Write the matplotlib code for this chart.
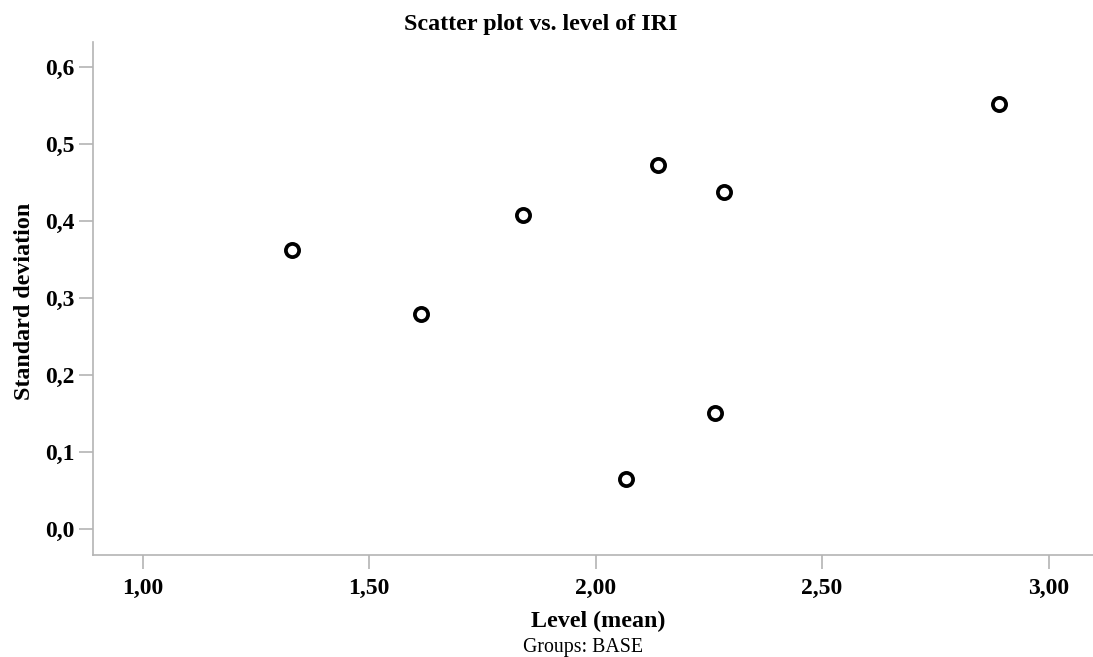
import matplotlib
matplotlib.use("Agg")
import matplotlib.pyplot as plt
from matplotlib.ticker import FuncFormatter

# Data.
level_mean = [1.330, 1.614, 1.840, 2.137, 2.283, 2.067, 2.263, 2.890]
std_dev = [0.362, 0.279, 0.408, 0.473, 0.437, 0.065, 0.151, 0.552]

x_ticks = [1.0, 1.5, 2.0, 2.5, 3.0]
y_ticks = [0.0, 0.1, 0.2, 0.3, 0.4, 0.5, 0.6]

plt.rcParams["font.family"] = "Liberation Serif"

fig = plt.figure(figsize=(10.93, 6.57), dpi=100)
ax = fig.add_axes([0.0848, 0.1548, 0.9152, 0.7813])

ax.plot(level_mean, std_dev, "o", markersize=9.5, markerfacecolor="white",
        markeredgecolor="black", markeredgewidth=2.7, linestyle="none")

ax.set_xlim(0.890, 3.098)
ax.set_ylim(-0.034, 0.632)
ax.set_xticks(x_ticks)
ax.set_yticks(y_ticks)
ax.xaxis.set_major_formatter(FuncFormatter(lambda v, p: "{0:.2f}".format(v).replace(".", ",")))
ax.yaxis.set_major_formatter(FuncFormatter(lambda v, p: "{0:.1f}".format(v).replace(".", ",")))

for side in ["top", "right"]:
    ax.spines[side].set_visible(False)
for side in ["left", "bottom"]:
    ax.spines[side].set_color("#b4b4b4")
    ax.spines[side].set_linewidth(1.2)

ax.tick_params(axis="both", direction="out", length=10, width=1.2, color="#b4b4b4",
               labelsize=17)
ax.tick_params(axis="x", pad=6)
ax.tick_params(axis="y", pad=3)
for lab in ax.get_xticklabels() + ax.get_yticklabels():
    lab.set_fontweight("bold")

fig.text(0.495, 0.954, "Scatter plot vs. level of IRI", ha="center", va="baseline",
         fontsize=17.3, fontweight="bold")
fig.text(0.5476, 0.0457, "Level (mean)", ha="center", va="baseline",
         fontsize=17.3, fontweight="bold")
fig.text(0.533, 0.0076, "Groups: BASE", ha="center", va="baseline", fontsize=14.3)
fig.text(0.022, 0.542, "Standard deviation", ha="center", va="center",
         rotation=90, fontsize=17.3, fontweight="bold")

fig.savefig("out.png", dpi=100)
